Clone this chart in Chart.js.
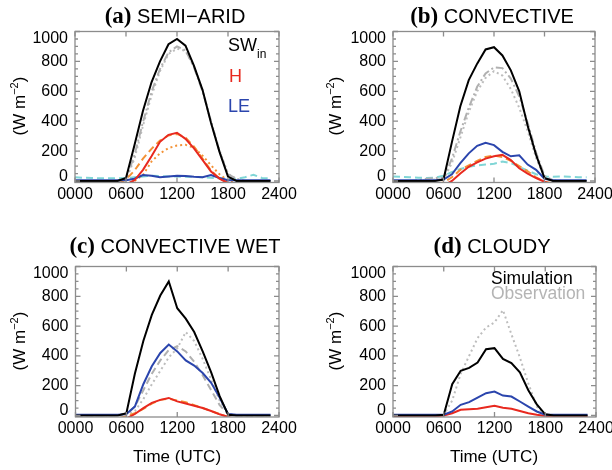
<!DOCTYPE html>
<html>
<head>
<meta charset="utf-8">
<script src="https://cdn.jsdelivr.net/npm/chart.js@4.4.1/dist/chart.umd.min.js"></script>
<style>
  html, body { margin: 0; padding: 0; background: #fff; }
  #wrap { position: relative; width: 612px; height: 470px; overflow: hidden;
          font-family: "Liberation Sans", Arial, sans-serif; color: #000; }
  #wrap canvas { position: absolute; left: 0; top: 0; }
  .t { position: absolute; white-space: nowrap; }
</style>
</head>
<body>
<div id="wrap"></div>
<script>
// Hourly time axis (UTC, hhmm)
const hours = [0,100,200,300,400,500,600,700,800,900,1000,1100,1200,1300,1400,1500,1600,1700,1800,1900,2000,2100,2200,2300];
const xTicks = [0,600,1200,1800,2400];
const yTicks = [0,200,400,600,800,1000];

// (a) SEMI-ARID
const swSimA  = [0,0,0,0,0,0,20,240,470,660,800,915,950,905,770,610,390,195,30,0,0,0,0,0];
const swObsA1 = [0,0,0,0,0,0,10,175,395,595,750,860,900,875,760,600,395,195,45,15,0,0,0,0];
const swObsA2 = [0,0,0,0,0,0,5,150,370,570,735,850,885,870,765,610,400,205,50,10,0,0,0,0];
const hSimA   = [-30,-30,-30,-30,-30,-30,-25,5,75,165,262,309,323,282,218,141,64,16,-15,-25,-30,-30,-30,-30];
const hObsA1  = [-20,-20,-20,-20,-20,-20,10,70,150,215,270,305,315,290,230,150,70,15,-10,-20,-20,-20,-20,-20];
const hObsA2  = [-20,-20,-20,-20,-20,-20,-15,0,40,130,185,220,238,242,222,170,105,45,0,-15,-20,-20,-20,-20];
const leSimA  = [5,5,5,5,5,5,5,15,40,35,25,30,35,33,28,25,40,20,5,5,5,5,5,5];
const leObsA  = [25,22,20,18,18,18,20,25,30,35,33,30,30,28,28,25,22,18,15,15,25,42,20,18];

// (b) CONVECTIVE
const swSimB  = [0,0,0,0,0,0,10,260,500,675,785,880,895,840,740,600,370,175,20,0,0,0,0,0];
const swObsB1 = [0,0,0,5,15,20,20,150,330,490,630,720,760,755,685,565,390,190,35,5,0,0,0,0];
const swObsB2 = [0,0,0,0,5,10,10,120,290,460,600,690,735,705,615,490,335,155,20,0,0,0,0,0];
const hSimB   = [-30,-30,-30,-30,-30,-30,-30,0,50,95,125,150,165,175,140,85,50,20,-5,-25,-30,-30,-30,-30];
const hObsB   = [-20,-20,-20,-20,-20,-20,-10,25,75,105,135,160,170,160,135,100,65,25,-5,-15,-20,-20,-20,-20];
const leSimB  = [5,5,5,5,5,5,10,45,120,185,235,255,240,195,165,172,110,75,15,5,5,5,5,5];
const leObsB  = [30,28,25,22,20,22,35,60,80,95,105,110,115,130,120,95,70,45,30,28,30,28,25,25];

// (c) CONVECTIVE WET
const swSimC  = [0,0,0,0,0,0,15,280,500,675,805,900,720,650,560,430,290,130,5,0,0,0,0,0];
const swObsC1 = [0,0,0,0,0,0,10,60,170,280,370,440,465,430,360,270,170,70,10,0,0,0,0,0];
const swObsC2 = [0,0,0,0,0,0,5,30,110,210,300,390,450,560,500,380,240,100,10,0,0,0,0,0];
const hSimC   = [-30,-30,-30,-30,-30,-30,-20,10,50,85,105,118,95,80,65,50,30,8,-10,-25,-30,-30,-30,-30];
const hObsC   = [-20,-20,-20,-20,-20,-20,-5,15,45,80,105,112,100,90,70,50,30,10,-10,-20,-20,-20,-20,-20];
const leSimC  = [5,5,5,5,5,5,10,60,210,330,420,476,430,370,335,285,220,120,10,5,5,5,5,5];

// (d) CLOUDY
const swSimD  = [0,0,0,0,0,0,5,210,300,320,355,445,452,380,352,290,170,75,8,0,0,0,0,0];
const swObsD  = [0,0,0,0,0,0,5,100,280,400,520,590,625,707,545,390,215,60,5,0,0,0,0,0];
const leSimD  = [5,5,5,5,5,5,5,27,72,90,120,150,161,134,127,94,60,27,5,5,5,5,5,5];
const hSimD   = [-5,-5,-5,-5,-5,-5,0,15,38,42,45,55,65,52,45,30,15,5,-3,-5,-5,-5,-5,-5];

// colours and line styles
const C = { sw: '#000000', h: '#e8291f', le: '#2b45ad', hObs: '#f39236', leObs: '#80d6d6',
            swObs1: '#b0b0b0', swObs2: '#bdbdbd' };
const STYLE = { solid: [], dash: [7, 4], dashdot: [8, 3, 2, 3], dot: [2, 3] };

function series(values, color, style, width) {
  return {
    data: values.map((v, i) => ({ x: hours[i], y: v })),
    borderColor: color, backgroundColor: color,
    borderWidth: width || 2, borderDash: STYLE[style],
    pointRadius: 0, tension: 0, fill: false
  };
}

const FONT = '"Liberation Sans", Arial, sans-serif';
const X_AXIS_H = 30;   // room kept under each frame for the time labels

// frame, inward ticks and y labels kept inside the frame
const frameTicks = {
  id: 'frameTicks',
  afterDatasetsDraw(chart) {
    const { ctx, chartArea: a, scales: { x, y } } = chart;
    ctx.save();
    ctx.strokeStyle = '#8c8c8c';
    ctx.lineWidth = 1.3;
    ctx.setLineDash([]);
    ctx.strokeRect(a.left, a.top, a.right - a.left, a.bottom - a.top);
    ctx.beginPath();
    for (let v = 0; v <= 1000; v += 50) {
      const py = y.getPixelForValue(v);
      const len = v % 200 === 0 ? 5 : 3;
      ctx.moveTo(a.left, py);  ctx.lineTo(a.left + len, py);
      ctx.moveTo(a.right, py); ctx.lineTo(a.right - len, py);
    }
    for (const v of xTicks) {
      const px = x.getPixelForValue(v);
      ctx.moveTo(px, a.top);    ctx.lineTo(px, a.top + 5);
      ctx.moveTo(px, a.bottom); ctx.lineTo(px, a.bottom - 5);
    }
    ctx.stroke();
    ctx.fillStyle = '#000';
    ctx.font = '16px ' + FONT;
    ctx.textAlign = 'right';
    ctx.textBaseline = 'middle';
    for (const v of yTicks) {
      let py = y.getPixelForValue(v);
      py = Math.min(Math.max(py, a.top + 7), a.bottom - 6);
      ctx.fillText(String(v), a.left - 7, py);
    }
    ctx.restore();
  }
};

const wrap = document.getElementById('wrap');
const W = 612, H = 470;

function panel(rect, datasets) {
  const cv = document.createElement('canvas');
  cv.width = W; cv.height = H;
  wrap.appendChild(cv);
  new Chart(cv, {
    type: 'line',
    data: { datasets },
    options: {
      responsive: false, animation: false, devicePixelRatio: 1, events: [],
      layout: { padding: { left: rect.l, top: rect.t, right: W - rect.r, bottom: H - rect.b - X_AXIS_H } },
      plugins: { legend: { display: false }, tooltip: { enabled: false } },
      scales: {
        x: {
          type: 'linear', min: 0, max: 2400,
          grid: { display: false, drawTicks: false },
          border: { display: false },
          ticks: {
            stepSize: 600, autoSkip: false, maxRotation: 0, minRotation: 0, padding: 2,
            color: '#000', font: { family: FONT, size: 16 },
            callback: v => String(v).padStart(4, '0')
          },
          afterFit(s) { s.height = X_AXIS_H; s.paddingLeft = 0; s.paddingRight = 0; }
        },
        y: {
          type: 'linear', min: -10, max: 1000, display: false,
          ticks: { stepSize: 200, includeBounds: false }
        }
      }
    },
    plugins: [frameTicks]
  });
}

const rectA = { l: 75,   t: 31.5,  r: 279, b: 182.5 };
const rectB = { l: 393,  t: 31.5,  r: 595, b: 182.5 };
const rectC = { l: 75.5, t: 266.5, r: 279, b: 417 };
const rectD = { l: 393,  t: 266.5, r: 596, b: 417 };

panel(rectA, [
  series(swSimA, C.sw, 'solid'),
  series(hSimA, C.h, 'solid'),
  series(leSimA, C.le, 'solid'),
  series(hObsA1, C.hObs, 'dash'),
  series(hObsA2, C.hObs, 'dot'),
  series(swObsA1, C.swObs1, 'dashdot'),
  series(swObsA2, C.swObs2, 'dot'),
  series(leObsA, C.leObs, 'dash')
]);
panel(rectB, [
  series(swSimB, C.sw, 'solid'),
  series(leSimB, C.le, 'solid'),
  series(hSimB, C.h, 'solid'),
  series(hObsB, C.hObs, 'dash'),
  series(swObsB1, C.swObs1, 'dashdot'),
  series(swObsB2, C.swObs2, 'dot'),
  series(leObsB, C.leObs, 'dash')
]);
panel(rectC, [
  series(swSimC, C.sw, 'solid'),
  series(leSimC, C.le, 'solid'),
  series(hSimC, C.h, 'solid'),
  series(hObsC, C.hObs, 'dash'),
  series(swObsC1, C.swObs1, 'dash'),
  series(swObsC2, C.swObs2, 'dot')
]);
panel(rectD, [
  series(swSimD, C.sw, 'solid'),
  series(leSimD, C.le, 'solid'),
  series(hSimD, C.h, 'solid'),
  series(swObsD, C.swObs2, 'dot')
]);

// text placed by baseline (Liberation Sans metrics)
function text(html, x, base, size, color, align) {
  const d = document.createElement('div');
  d.className = 't';
  d.innerHTML = html;
  d.style.fontSize = size + 'px';
  d.style.lineHeight = size + 'px';
  d.style.top = (base - 0.8465 * size) + 'px';
  d.style.left = x + 'px';
  if (color) d.style.color = color;
  if (align === 'center') d.style.transform = 'translateX(-50%)';
  wrap.appendChild(d);
  return d;
}

function title(tag, name, cx, base) {
  const d = document.createElement('div');
  d.className = 't';
  d.style.fontSize = '20px';
  d.style.lineHeight = '20px';
  d.style.left = cx + 'px';
  d.style.top = (base - 17.8) + 'px';
  d.style.transform = 'translateX(-50%)';
  d.innerHTML = '<span style="font-family:\'Liberation Serif\',serif;font-weight:bold;font-size:23px">' +
                tag + '</span> ' + name;
  wrap.appendChild(d);
}

function yTitle(cx, cy) {
  const d = document.createElement('div');
  d.className = 't';
  d.style.fontSize = '17px';
  d.style.lineHeight = '17px';
  d.style.left = cx + 'px';
  d.style.top = cy + 'px';
  d.style.transform = 'translate(-50%,-50%) rotate(-90deg)';
  d.innerHTML = '(W m<span style="font-size:11px;position:relative;top:-7px">\u22122</span>)';
  wrap.appendChild(d);
}

title('(a)', 'SEMI\u2212ARID', 175, 24);
title('(b)', 'CONVECTIVE', 492, 24);
title('(c)', 'CONVECTIVE WET', 175, 254);
title('(d)', 'CLOUDY', 492, 254);

yTitle(19.5, 106);
yTitle(336, 106);
yTitle(19.5, 341);
yTitle(336, 341);

text('Time (UTC)', 177, 462, 17, '#000', 'center');
text('Time (UTC)', 494, 462, 17, '#000', 'center');

text('SW<span style="font-size:12px;position:relative;top:7px">in</span>', 228, 51, 18, '#000');
text('H', 229, 82, 18, C.h);
text('LE', 228, 112, 18, C.le);

text('Simulation', 491, 284.5, 17.5, '#000');
text('Observation', 491, 299.5, 17.5, '#b4b4b4');
</script>
</body>
</html>
